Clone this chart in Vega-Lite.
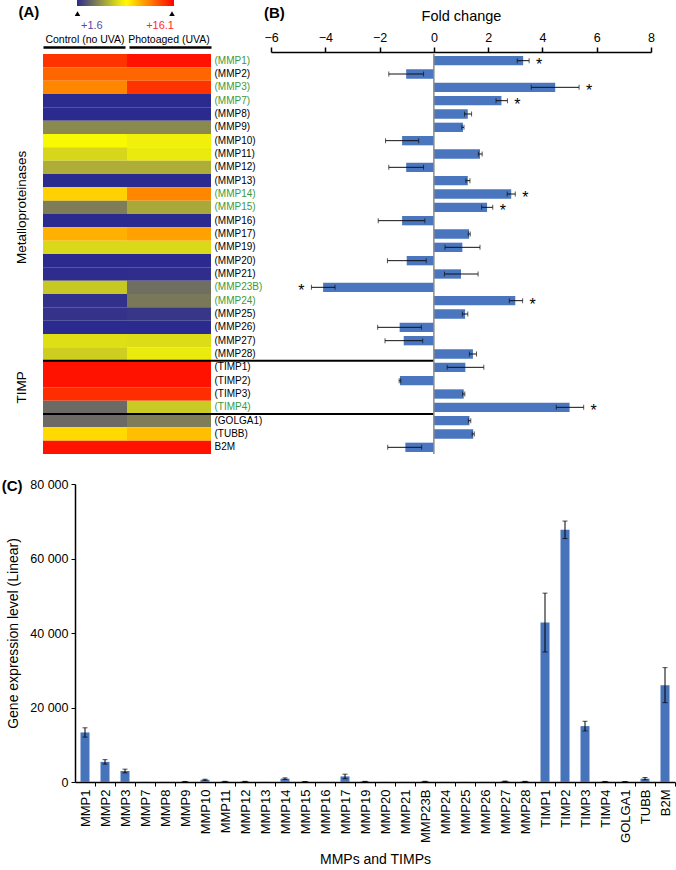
{
  "$schema": "https://vega.github.io/schema/vega-lite/v6.json",
  "padding": {"left": 1, "top": 0, "right": 0, "bottom": 0},
  "autosize": {"type": "pad"},
  "background": "white",
  "config": {
    "font": "Liberation Sans",
    "view": {"stroke": null},
    "axis": {"labelColor": "black", "titleColor": "black", "domainColor": "black", "tickColor": "black", "titleFontWeight": "normal", "grid": false, "labelFlush": false},
    "title": {"fontWeight": "bold", "fontSize": 15, "color": "black"}
  },
  "datasets": {
    "heat": [
      {"gene":"MMP1","c":14.65,"p":15.6},
      {"gene":"MMP2","c":13.2,"p":13.2},
      {"gene":"MMP3","c":12.26,"p":14.65},
      {"gene":"MMP7","c":1.6,"p":1.6},
      {"gene":"MMP8","c":1.6,"p":1.6},
      {"gene":"MMP9","c":4.86,"p":4.86},
      {"gene":"MMP10","c":8.63,"p":8.34},
      {"gene":"MMP11","c":7.47,"p":8.13},
      {"gene":"MMP12","c":6.06,"p":6.06},
      {"gene":"MMP13","c":1.6,"p":1.6},
      {"gene":"MMP14","c":10.16,"p":12.26},
      {"gene":"MMP15","c":4.43,"p":5.88},
      {"gene":"MMP16","c":1.6,"p":1.6},
      {"gene":"MMP17","c":11.1,"p":11.53},
      {"gene":"MMP19","c":7.55,"p":7.55},
      {"gene":"MMP20","c":1.6,"p":1.6},
      {"gene":"MMP21","c":1.7,"p":1.75},
      {"gene":"MMP23B","c":6.97,"p":3.92},
      {"gene":"MMP24","c":1.8,"p":4.28},
      {"gene":"MMP25","c":1.9,"p":2.0},
      {"gene":"MMP26","c":1.6,"p":1.6},
      {"gene":"MMP27","c":7.76,"p":7.7},
      {"gene":"MMP28","c":7.18,"p":8.13},
      {"gene":"TIMP1","c":15.6,"p":15.6},
      {"gene":"TIMP2","c":15.6,"p":15.6},
      {"gene":"TIMP3","c":14.8,"p":14.8},
      {"gene":"TIMP4","c":3.78,"p":7.04},
      {"gene":"GOLGA1","c":3.78,"p":4.43},
      {"gene":"TUBB","c":9.94,"p":10.66},
      {"gene":"B2M","c":15.6,"p":15.6}
    ],
    "fc": [
      {"gene":"MMP1","fc":3.29,"lo":3.07,"hi":3.51,"sig":true},
      {"gene":"MMP2","fc":-1.02,"lo":-1.66,"hi":-0.38,"sig":false},
      {"gene":"MMP3","fc":4.47,"lo":3.59,"hi":5.35,"sig":true},
      {"gene":"MMP7","fc":2.49,"lo":2.29,"hi":2.71,"sig":true},
      {"gene":"MMP8","fc":1.25,"lo":1.13,"hi":1.39,"sig":false},
      {"gene":"MMP9","fc":1.07,"lo":1.03,"hi":1.11,"sig":false},
      {"gene":"MMP10","fc":-1.17,"lo":-1.78,"hi":-0.56,"sig":false},
      {"gene":"MMP11","fc":1.7,"lo":1.64,"hi":1.78,"sig":false},
      {"gene":"MMP12","fc":-1.02,"lo":-1.66,"hi":-0.38,"sig":false},
      {"gene":"MMP13","fc":1.25,"lo":1.18,"hi":1.33,"sig":false},
      {"gene":"MMP14","fc":2.85,"lo":2.7,"hi":3.0,"sig":true},
      {"gene":"MMP15","fc":1.96,"lo":1.76,"hi":2.17,"sig":true},
      {"gene":"MMP16","fc":-1.17,"lo":-2.05,"hi":-0.33,"sig":false},
      {"gene":"MMP17","fc":1.3,"lo":1.27,"hi":1.34,"sig":false},
      {"gene":"MMP19","fc":1.05,"lo":0.41,"hi":1.7,"sig":false},
      {"gene":"MMP20","fc":-1.0,"lo":-1.71,"hi":-0.28,"sig":false},
      {"gene":"MMP21","fc":1.0,"lo":0.39,"hi":1.63,"sig":false},
      {"gene":"MMP23B","fc":-4.08,"lo":-4.51,"hi":-3.64,"sig":true},
      {"gene":"MMP24","fc":3.0,"lo":2.78,"hi":3.27,"sig":true},
      {"gene":"MMP25","fc":1.15,"lo":1.05,"hi":1.25,"sig":false},
      {"gene":"MMP26","fc":-1.26,"lo":-2.07,"hi":-0.46,"sig":false},
      {"gene":"MMP27","fc":-1.11,"lo":-1.8,"hi":-0.41,"sig":false},
      {"gene":"MMP28","fc":1.44,"lo":1.31,"hi":1.57,"sig":false},
      {"gene":"TIMP1","fc":1.16,"lo":0.49,"hi":1.84,"sig":false},
      {"gene":"TIMP2","fc":-1.25,"lo":-1.28,"hi":-1.22,"sig":false},
      {"gene":"TIMP3","fc":1.1,"lo":1.06,"hi":1.14,"sig":false},
      {"gene":"TIMP4","fc":5.0,"lo":4.51,"hi":5.52,"sig":true},
      {"gene":"GOLGA1","fc":1.31,"lo":1.27,"hi":1.36,"sig":false},
      {"gene":"TUBB","fc":1.45,"lo":1.41,"hi":1.49,"sig":false},
      {"gene":"B2M","fc":-1.05,"lo":-1.7,"hi":-0.45,"sig":false}
    ],
    "expr": [
      {"gene":"MMP1","val":13300,"err":1250},
      {"gene":"MMP2","val":5400,"err":600},
      {"gene":"MMP3","val":2950,"err":500},
      {"gene":"MMP7","val":40,"err":0},
      {"gene":"MMP8","val":40,"err":0},
      {"gene":"MMP9","val":120,"err":30},
      {"gene":"MMP10","val":600,"err":150},
      {"gene":"MMP11","val":150,"err":30},
      {"gene":"MMP12","val":150,"err":30},
      {"gene":"MMP13","val":40,"err":0},
      {"gene":"MMP14","val":900,"err":200},
      {"gene":"MMP15","val":100,"err":30},
      {"gene":"MMP16","val":40,"err":0},
      {"gene":"MMP17","val":1500,"err":600},
      {"gene":"MMP19","val":150,"err":30},
      {"gene":"MMP20","val":40,"err":0},
      {"gene":"MMP21","val":40,"err":0},
      {"gene":"MMP23B","val":150,"err":40},
      {"gene":"MMP24","val":40,"err":0},
      {"gene":"MMP25","val":40,"err":0},
      {"gene":"MMP26","val":40,"err":0},
      {"gene":"MMP27","val":200,"err":50},
      {"gene":"MMP28","val":150,"err":30},
      {"gene":"TIMP1","val":42800,"err":7900},
      {"gene":"TIMP2","val":67700,"err":2350},
      {"gene":"TIMP3","val":15000,"err":1300},
      {"gene":"TIMP4","val":120,"err":30},
      {"gene":"GOLGA1","val":100,"err":30},
      {"gene":"TUBB","val":900,"err":300},
      {"gene":"B2M","val":26000,"err":4700}
    ],
    "sep": [{"gene":"TIMP1"},{"gene":"GOLGA1"}]
  },
  "bounds": "flush",
  "spacing": 30,
  "vconcat": [
    {
      "width": 608,
      "height": 400,
      "title": {"text": "(B)", "anchor": "start", "frame": "group", "dx": 221, "dy": 16, "offset": 0},
      "layer": [
        {
          "data": {"name": "heat"},
          "transform": [{"fold": ["c", "p"], "as": ["cond", "v"]}],
          "mark": {"type": "rect"},
          "encoding": {
            "x": {"field": "cond", "type": "nominal",
              "scale": {"domain": ["c", "p"], "range": [0, 168], "paddingInner": 0, "paddingOuter": 0},
              "axis": {"orient": "top", "title": "(A)", "titleX": -25, "titleY": -30.5, "titleAlign": "left", "titleBaseline": "alphabetic", "titleFontWeight": "bold", "titleFontSize": 15,
                "labelExpr": "datum.value == 'c' ? 'Control (no UVA)' : 'Photoaged (UVA)'", "labelAngle": 0, "labelFontSize": 10.5, "ticks": false, "tickSize": 0, "domain": true, "domainDash": [82, 4], "domainWidth": 2.5, "offset": 7, "labelPadding": 3}},
            "y": {"field": "gene", "type": "nominal",
              "scale": {"domain": ["MMP1","MMP2","MMP3","MMP7","MMP8","MMP9","MMP10","MMP11","MMP12","MMP13","MMP14","MMP15","MMP16","MMP17","MMP19","MMP20","MMP21","MMP23B","MMP24","MMP25","MMP26","MMP27","MMP28","TIMP1","TIMP2","TIMP3","TIMP4","GOLGA1","TUBB","B2M"], "paddingInner": 0, "paddingOuter": 0},
              "axis": {"orient": "left", "title": null, "ticks": false, "tickSize": 0, "domain": false, "labelPadding": -171, "labelAlign": "left", "labelFontSize": 10,
                "labelExpr": "datum.value == 'B2M' ? 'B2M' : '(' + datum.value + ')'",
                "labelColor": {"condition": {"test": "indexof(['MMP1','MMP3','MMP7','MMP14','MMP15','MMP23B','MMP24','TIMP4'], datum.value) >= 0", "value": "#3a9a3a"}, "value": "black"}}},
            "color": {"field": "v", "type": "quantitative",
              "scale": {"domain": [1.6, 8.85, 16.1], "range": ["#2b2a8f", "#ffff00", "#ff0000"], "interpolate": "rgb"},
              "legend": {"type": "gradient", "orient": "none", "direction": "horizontal", "legendX": 34, "legendY": -54, "gradientLength": 97, "gradientThickness": 6, "gradientStrokeWidth": 0, "title": null, "values": [1.6, 16.1], "labelOffset": 14, "labelFontSize": 11, "padding": 0,
                "labelExpr": "'+' + datum.value",
                "encode": {"labels": {"update": {"fill": {"signal": "datum.value < 5 ? '#5050a8' : '#ff2a2a'"}, "dx": {"signal": "datum.value < 5 ? 4 : 0"}}}}}},
            "opacity": {"field": "v", "type": "quantitative",
              "scale": {"domain": [0, 100], "range": [1, 1]},
              "legend": {"orient": "none", "direction": "horizontal", "legendX": 31, "legendY": -44, "title": null, "values": [1.6, 16.1], "symbolType": "triangle-up", "symbolSize": 30, "labelExpr": "''", "labelFontSize": 1, "labelOffset": 0, "columnPadding": 81.5, "padding": 0,
                "encode": {"symbols": {"update": {"fill": {"value": "black"}, "opacity": {"value": 1}, "strokeWidth": {"value": 0}}}}}}
          }
        },
        {
          "data": {"name": "sep"},
          "mark": {"type": "rule", "color": "black", "strokeWidth": 2},
          "encoding": {
            "y": {"field": "gene", "type": "nominal", "bandPosition": 0,
              "scale": {"domain": ["MMP1","MMP2","MMP3","MMP7","MMP8","MMP9","MMP10","MMP11","MMP12","MMP13","MMP14","MMP15","MMP16","MMP17","MMP19","MMP20","MMP21","MMP23B","MMP24","MMP25","MMP26","MMP27","MMP28","TIMP1","TIMP2","TIMP3","TIMP4","GOLGA1","TUBB","B2M"], "paddingInner": 0, "paddingOuter": 0},
              "axis": {"orient": "left", "title": null, "values": ["MMP15", "TIMP3"], "bandPosition": 0.5, "ticks": false, "tickSize": 0, "domain": false, "labelPadding": 15, "labelFontSize": 13.5, "labelAngle": 270, "labelAlign": "center", "labelBaseline": "bottom",
                "labelExpr": "datum.value == 'MMP15' ? 'Metalloproteinases' : 'TIMP'",
                "labelOffset": {"condition": {"test": "datum.value == 'TIMP3'", "value": -6.67}, "value": 0}}},
            "x": {"datum": -14.4, "type": "quantitative", "axis": null,
              "scale": {"domain": [-6, 8], "nice": false, "range": [228, 608]}},
            "x2": {"datum": 0}
          }
        },
        {
          "layer": [
            {
              "data": {"name": "fc"},
              "mark": {"type": "bar", "color": "#4a76bf"},
              "encoding": {
                "y": {"field": "gene", "type": "nominal", "axis": null,
                  "scale": {"domain": ["MMP1","MMP2","MMP3","MMP7","MMP8","MMP9","MMP10","MMP11","MMP12","MMP13","MMP14","MMP15","MMP16","MMP17","MMP19","MMP20","MMP21","MMP23B","MMP24","MMP25","MMP26","MMP27","MMP28","TIMP1","TIMP2","TIMP3","TIMP4","GOLGA1","TUBB","B2M"], "paddingInner": 0.3, "paddingOuter": 0.15}},
                "x": {"field": "fc", "type": "quantitative", "title": "Fold change",
                  "scale": {"domain": [-6, 8], "nice": false, "range": [228, 608]},
                  "axis": {"orient": "top", "values": [-6, -4, -2, 0, 2, 4, 6, 8], "title": "Fold change", "titleFontSize": 14.5, "titlePadding": 8, "labelFontSize": 12.5, "labelPadding": 3, "tickSize": 5, "tickWidth": 1.5, "domainWidth": 1.5, "offset": 2}}
              }
            },
            {
              "data": {"name": "fc"},
              "mark": {"type": "errorbar", "color": "#111111", "thickness": 1, "ticks": {"size": 5, "color": "#111111"}},
              "encoding": {
                "y": {"field": "gene", "type": "nominal", "axis": null},
                "x": {"field": "lo", "type": "quantitative", "title": "Fold change"},
                "x2": {"field": "hi"}
              }
            },
            {
              "data": {"values": [{}]},
              "mark": {"type": "rule", "color": "#8a8a8a", "strokeWidth": 1.5},
              "encoding": {"x": {"datum": 0, "type": "quantitative", "title": "Fold change"}}
            },
            {
              "data": {"name": "fc"},
              "transform": [{"filter": "datum.sig && datum.fc > 0"}],
              "mark": {"type": "text", "text": "*", "fontSize": 16, "dx": 10, "dy": 4, "color": "black"},
              "encoding": {
                "y": {"field": "gene", "type": "nominal", "axis": null},
                "x": {"field": "hi", "type": "quantitative", "title": "Fold change"}
              }
            },
            {
              "data": {"name": "fc"},
              "transform": [{"filter": "datum.sig && datum.fc < 0"}],
              "mark": {"type": "text", "text": "*", "fontSize": 16, "dx": -10, "dy": 4, "color": "black"},
              "encoding": {
                "y": {"field": "gene", "type": "nominal", "axis": null},
                "x": {"field": "lo", "type": "quantitative", "title": "Fold change"}
              }
            }
          ]
        }
      ],
      "resolve": {"scale": {"x": "independent", "y": "independent"}}
    },
    {
      "width": 632,
      "height": 298,
      "title": {"text": "(C)", "anchor": "start", "frame": "bounds", "dx": -5, "dy": 16, "offset": 0},
      "layer": [
        {
          "data": {"name": "expr"},
          "mark": {"type": "bar", "color": "#4673ba"},
          "encoding": {
            "x": {"field": "gene", "type": "nominal", "title": "MMPs and TIMPs",
              "scale": {"domain": ["MMP1","MMP2","MMP3","MMP7","MMP8","MMP9","MMP10","MMP11","MMP12","MMP13","MMP14","MMP15","MMP16","MMP17","MMP19","MMP20","MMP21","MMP23B","MMP24","MMP25","MMP26","MMP27","MMP28","TIMP1","TIMP2","TIMP3","TIMP4","GOLGA1","TUBB","B2M"], "range": [32, 632], "paddingInner": 0.55, "paddingOuter": 0.275},
              "axis": {"title": "MMPs and TIMPs", "titleFontSize": 14, "titlePadding": 10, "labelAngle": 270, "labelFontSize": 13, "labelPadding": 3, "tickSize": 4, "bandPosition": 1, "tickOffset": 5.5, "labelOffset": -5.5, "domainWidth": 1.5}},
            "y": {"field": "val", "type": "quantitative", "title": "Gene expression level (Linear)",
              "scale": {"domain": [0, 80000], "nice": false},
              "axis": {"offset": -32, "values": [0, 10000, 20000, 30000, 40000, 50000, 60000, 70000, 80000], "labelExpr": "replace(format(datum.value, ','), ',', ' ')", "title": "Gene expression level (Linear)", "titleFontSize": 14, "titlePadding": 9, "labelFontSize": 12.5, "labelPadding": 3, "tickSize": 4, "domainWidth": 1.5}}
          }
        },
        {
          "data": {"name": "expr"},
          "transform": [{"filter": "datum.err > 0"}],
          "mark": {"type": "errorbar", "color": "black", "thickness": 1, "ticks": {"size": 5, "color": "black"}},
          "encoding": {
            "x": {"field": "gene", "type": "nominal", "title": "MMPs and TIMPs"},
            "y": {"field": "val", "type": "quantitative", "title": "Gene expression level (Linear)"},
            "yError": {"field": "err"}
          }
        }
      ]
    }
  ]
}
